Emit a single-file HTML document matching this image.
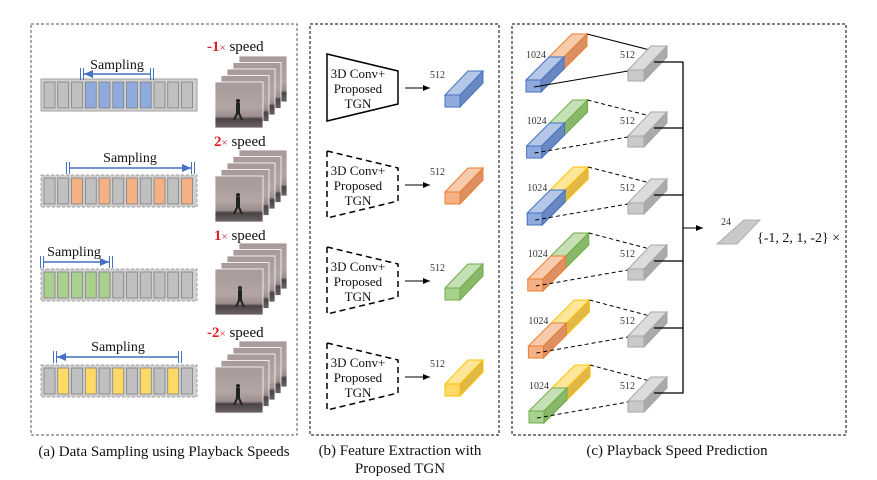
<!DOCTYPE html>
<html><head><meta charset="utf-8"><style>
html,body{margin:0;padding:0;background:#fff;}
svg{display:block;font-family:"Liberation Serif",serif;}
</style></head><body>
<svg id="s" width="877" height="480" viewBox="0 0 877 480" xmlns="http://www.w3.org/2000/svg">
<defs>
<linearGradient id="img" x1="0" y1="0" x2="0" y2="1">
<stop offset="0" stop-color="#a8999a"/><stop offset="0.55" stop-color="#b3a5a3"/><stop offset="0.75" stop-color="#9a8d8c"/><stop offset="0.8" stop-color="#4a4446"/><stop offset="1" stop-color="#6b6264"/>
</linearGradient>
<marker id="ah" markerWidth="8" markerHeight="8" refX="7" refY="4" orient="auto" markerUnits="userSpaceOnUse"><path d="M0,1 L7,4 L0,7 z" fill="#000"/></marker>
<marker id="bh" markerWidth="10" markerHeight="10" refX="9" refY="5" orient="auto" markerUnits="userSpaceOnUse"><path d="M0,1 L9,5 L0,9 z" fill="#4472c4"/></marker>
</defs>
<rect x="31" y="24" width="266" height="411" fill="none" stroke="#555" stroke-dasharray="3,2"/>
<rect x="310" y="24" width="189" height="411" fill="none" stroke="#000" stroke-dasharray="3,2"/>
<rect x="512" y="24" width="334" height="411" fill="none" stroke="#000" stroke-dasharray="3,2"/>
<g font-size="15" fill="#111">
<text x="164" y="456" text-anchor="middle">(a) Data Sampling using Playback Speeds</text>
<text x="400" y="455" text-anchor="middle">(b) Feature Extraction with</text>
<text x="400" y="473" text-anchor="middle">Proposed TGN</text>
<text x="677" y="455" text-anchor="middle">(c) Playback Speed Prediction</text>
</g>
<g id="g"></g>
<text x="721" y="225" font-size="10" fill="#333">24</text>
<text x="757" y="242" font-size="14" fill="#111">{-1, 2, 1, -2} ×</text>
<g font-size="15" fill="#111">
<text x="207" y="51"><tspan fill="#e0202a" font-weight="bold">-1</tspan><tspan fill="#e0202a" font-size="11">×</tspan> speed</text>
<text x="214" y="146"><tspan fill="#e0202a" font-weight="bold">2</tspan><tspan fill="#e0202a" font-size="11">×</tspan> speed</text>
<text x="214" y="240"><tspan fill="#e0202a" font-weight="bold">1</tspan><tspan fill="#e0202a" font-size="11">×</tspan> speed</text>
<text x="207" y="337"><tspan fill="#e0202a" font-weight="bold">-2</tspan><tspan fill="#e0202a" font-size="11">×</tspan> speed</text>
</g>
<g font-size="14" fill="#111" text-anchor="middle">
<text x="117" y="69">Sampling</text>
<text x="130" y="162">Sampling</text>
<text x="74" y="256">Sampling</text>
<text x="118" y="351">Sampling</text>
</g>
<g font-size="13" fill="#111" text-anchor="middle" id="tg"></g>
</svg>
<script>
var g=document.getElementById('g'),h='';
var C={b:['#8faadc','#b4c7e7','#6a88c0','#4472c4'],o:['#f4b183','#f8cbad','#dc9064','#ed7d31'],
gr:['#a9d18e','#c5e0b4','#88b86a','#70ad47'],y:['#ffd966','#ffe699','#e0b848','#ffc000'],k:['#c9c9c9','#dcdcdc','#aaaaaa','#a6a6a6']};
function box(x,y,w,hh,dx,dy,c){var s=C[c];
h+='<polygon points="'+x+','+y+' '+(x+dx)+','+(y-dy)+' '+(x+w+dx)+','+(y-dy)+' '+(x+w)+','+y+'" fill="'+s[1]+'" stroke="'+s[3]+'"/>';
h+='<polygon points="'+(x+w)+','+y+' '+(x+w+dx)+','+(y-dy)+' '+(x+w+dx)+','+(y+hh-dy)+' '+(x+w)+','+(y+hh)+'" fill="'+s[2]+'" stroke="'+s[3]+'"/>';
h+='<rect x="'+x+'" y="'+y+'" width="'+w+'" height="'+hh+'" fill="'+s[0]+'" stroke="'+s[3]+'"/>';}
var strips=[[79,'b',[3,4,5,6,7],0],[175,'o',[2,4,6,8,10],1],[269,'gr',[0,1,2,3,4],1],[365,'y',[1,3,5,7,9],1]];
strips.forEach(function(s){var y=s[0];
h+='<rect x="41" y="'+y+'" width="156" height="32" fill="#d0d0d0" stroke="#a0a0a0" '+(s[3]?'stroke-dasharray="3,2"':'')+'/>';
for(var i=0;i<11;i++){var c=s[2].indexOf(i)>=0?C[s[1]][0]:'#c0c0c0';
h+='<rect x="'+(44+i*13.75)+'" y="'+(y+3)+'" width="11" height="26" fill="'+c+'" stroke="#7f7f7f" stroke-width="0.8"/>';}});
[[82,152,74,-1],[68,193,168,1],[42,111,262,1],[55,180,357,-1]].forEach(function(a){
var x1=a[0],x2=a[1],y=a[2];
[x1,x2].forEach(function(x){h+='<line x1="'+(x-1.5)+'" y1="'+(y-6)+'" x2="'+(x-1.5)+'" y2="'+(y+6)+'" stroke="#4472c4"/><line x1="'+(x+1.5)+'" y1="'+(y-6)+'" x2="'+(x+1.5)+'" y2="'+(y+6)+'" stroke="#4472c4"/>';});
if(a[3]>0)h+='<line x1="'+(x1+2)+'" y1="'+y+'" x2="'+(x2-2)+'" y2="'+y+'" stroke="#4472c4" stroke-width="1.5" marker-end="url(#bh)"/>';
else h+='<line x1="'+(x2-2)+'" y1="'+y+'" x2="'+(x1+2)+'" y2="'+y+'" stroke="#4472c4" stroke-width="1.5" marker-end="url(#bh)"/>';});
[82,176,269,367].forEach(function(fy,k){
for(var L=4;L>=0;L--){var x=215+L*6,y=fy-L*6.5;
h+='<rect x="'+x+'" y="'+y+'" width="48" height="46" fill="url(#img)" stroke="#fff" stroke-width="0.8"/>';}
var px=[238,238,240,238][k];
h+='<circle cx="'+px+'" cy="'+(fy+19)+'" r="2" fill="#222"/><path d="M'+(px-2)+','+(fy+21)+' h4 v10 l3,7 h-2 l-3,-6 l-3,6 h-2 l3,-7z" fill="#222"/>';});
var tg='';
[88,185,281,377].forEach(function(cy,k){
var t=cy-34;
h+='<polygon points="327,'+t+' 398,'+(t+17)+' 398,'+(t+50)+' 327,'+(t+67)+'" fill="none" stroke="#000" stroke-width="1.5" '+(k?'stroke-dasharray="6,4"':'')+'/>';
tg+='<text x="358" y="'+(cy-10)+'">3D Conv+</text><text x="358" y="'+(cy+5)+'">Proposed</text><text x="358" y="'+(cy+20)+'">TGN</text>';
h+='<line x1="405" y1="'+cy+'" x2="430" y2="'+cy+'" stroke="#000" marker-end="url(#ah)"/>';
h+='<text x="430" y="'+(cy-10)+'" font-size="10" fill="#333">512</text>';
box(445,cy+7,15,12,23,24,['b','o','gr','y'][k]);});
document.getElementById('tg').innerHTML=tg;
var rows=[[80,'b','o'],[146,'b','gr'],[213,'b','y'],[279,'o','gr'],[346,'o','y'],[411,'gr','y']];
rows.forEach(function(r,k){var fy=r[0],fx=526+k*0.6,gy=fy-10,gx=628;
var da=k?'stroke-dasharray="4,3"':'';
box(fx+23,fy-23,15,12,23,23,r[2]);
box(fx,fy,15,12,23,23,r[1]);
h+='<text x="'+(fx)+'" y="'+(fy-22)+'" font-size="10" fill="#333">1024</text>';
h+='<line x1="'+(fx+61)+'" y1="'+(fy-46)+'" x2="'+(gx+22)+'" y2="'+(gy-20)+'" stroke="#000" '+da+'/>';
h+='<line x1="'+(fx+8)+'" y1="'+(fy+7)+'" x2="'+(gx)+'" y2="'+(gy+1)+'" stroke="#000" '+da+'/>';
box(gx,gy,16,11,23,24,'k');
h+='<text x="'+(gx-8)+'" y="'+(gy-12)+'" font-size="10" fill="#333">512</text>';
h+='<line x1="'+(gx+26)+'" y1="'+(gy-8)+'" x2="683" y2="'+(gy-8)+'" stroke="#000" stroke-width="1.3"/>';});
h+='<line x1="683" y1="61.5" x2="683" y2="393.5" stroke="#000" stroke-width="1.3"/>';
h+='<line x1="683" y1="228" x2="703" y2="228" stroke="#000" marker-end="url(#ah)"/>';
h+='<polygon points="717,244 744,220 760,220 737,244" fill="#c9c9c9" stroke="#b0b0b0"/>';
g.innerHTML=h;
</script>
</body></html>
